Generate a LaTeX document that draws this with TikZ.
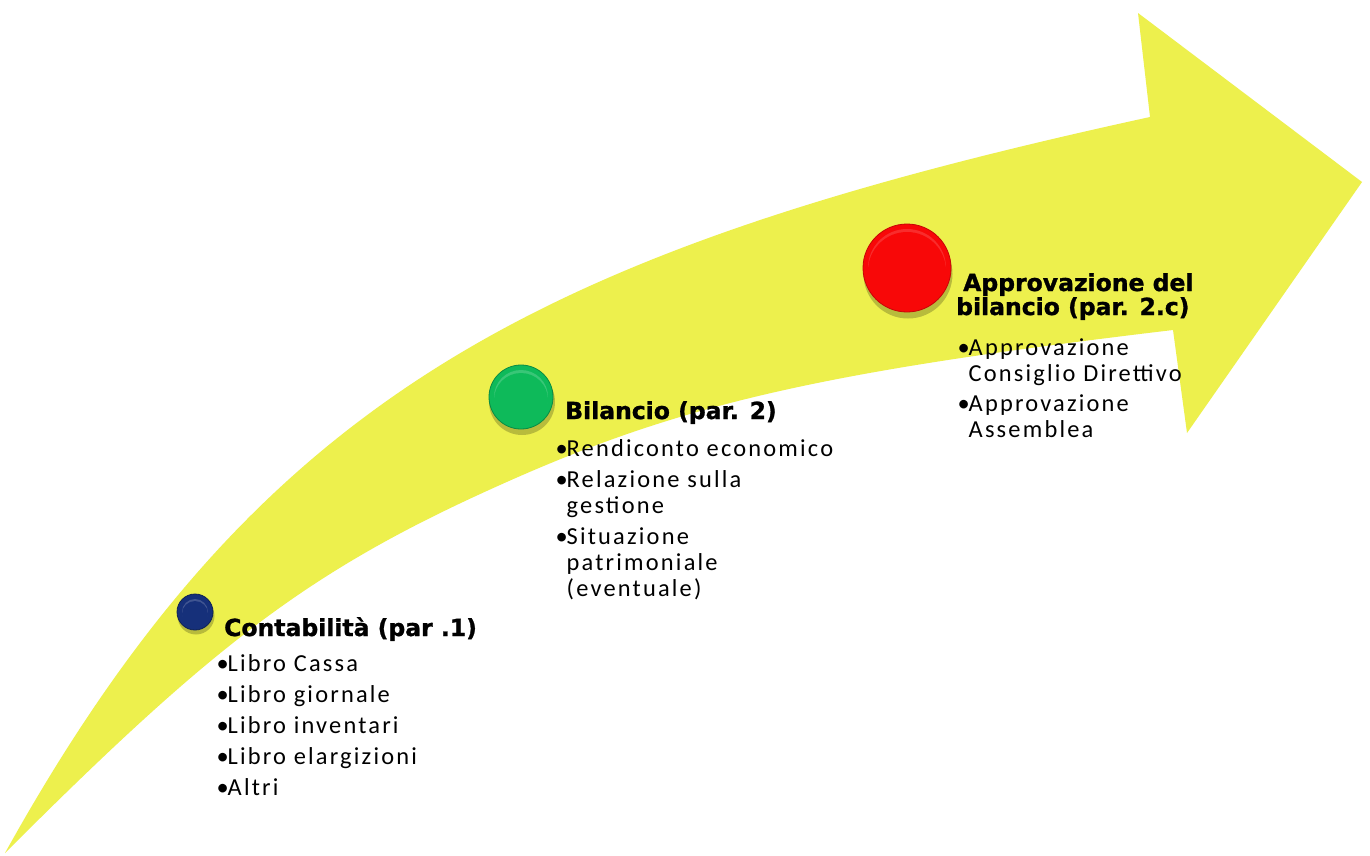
\documentclass[tikz,border=0pt]{standalone}
\usepackage{fontspec}
\newfontfamily\bodyfont[LetterSpace=9]{Carlito}
\newfontfamily\headfont[FakeBold=1.2]{DejaVu Sans Bold}
\definecolor{arrowyellow}{RGB}{237,240,77}
\definecolor{dotblue}{RGB}{22,48,122}
\definecolor{dotgreen}{RGB}{14,186,90}
\definecolor{dotred}{RGB}{248,8,8}
\newcommand\bul{\makebox[11pt][l]{•}}
\newcommand\ind{\hspace*{11pt}}
\begin{document}
\begin{tikzpicture}[x=1pt,y=-1pt,
  head/.style={anchor=base west, inner sep=0pt, font=\headfont\fontsize{23.5}{24}\selectfont},
  item/.style={anchor=base west, inner sep=0pt, font=\bodyfont\fontsize{24.4}{27}\selectfont},
  dotshadow/.style={fill=black, opacity=.22},
]
\useasboundingbox (0,0) rectangle (1370,855);
\fill[white] (0,0) rectangle (1370,855);
% curved arrow
\fill[arrowyellow] (5,853) .. controls (260,394) and (540,250) .. (1150,117)
  -- (1138,13) -- (1362,182) -- (1187,433) -- (1173,330)
  .. controls (820,372) and (680,404) .. (500,485)
  .. controls (310,570) and (215,643) .. (5,853) -- cycle;
% shadows of the dots
\fill[dotshadow] (196,616) circle[radius=18.5pt];
\fill[dotshadow] (522,402) circle[radius=33pt];
\fill[dotshadow] (908,274) circle[radius=44.5pt];
% dots
\node[circle, inner sep=0pt, minimum size=36pt, fill=dotblue, draw=dotblue!70!black, line width=0.8pt] (c1) at (195,612) {};
\node[circle, inner sep=0pt, minimum size=64pt, fill=dotgreen, draw=dotgreen!75!black, line width=0.8pt] (c2) at (521,397) {};
\node[circle, inner sep=0pt, minimum size=88pt, fill=dotred, draw=dotred!80!black, line width=0.8pt] (c3) at (907,268) {};
\fill[white, opacity=.18] (c1.center) circle[radius=13pt];
\fill[dotblue] ([yshift=-2pt]c1.center) circle[radius=13pt];
\fill[white, opacity=.18] (c2.center) circle[radius=27pt];
\fill[dotgreen] ([yshift=-3pt]c2.center) circle[radius=27pt];
\fill[white, opacity=.15] (c3.center) circle[radius=39pt];
\fill[dotred] ([yshift=-3pt]c3.center) circle[radius=39pt];
% texts: Contabilita
\node[head] (t1) at (224,636) {Contabilità (par .1)};
\node[item] (a1) at (216.5,671) {\bul Libro Cassa};
\node[item] (a2) at (216.5,702) {\bul Libro giornale};
\node[item] (a3) at (216.5,733) {\bul Libro inventari};
\node[item] (a4) at (216.5,764) {\bul Libro elargizioni};
\node[item] (a5) at (216.5,795) {\bul Altri};
% Bilancio
\node[head] (t2) at (565,419) {Bilancio (par. 2)};
\node[item] (b1) at (555.5,456) {\bul Rendiconto economico};
\node[item] (b2) at (555.5,487) {\bul Relazione sulla};
\node[item] (b3) at (555.5,513) {\ind gestione};
\node[item] (b4) at (555.5,544) {\bul Situazione};
\node[item] (b5) at (555.5,570) {\ind patrimoniale};
\node[item] (b6) at (555.5,596) {\ind (eventuale)};
% Approvazione
\node[head] (t3) at (963,291) {Approvazione del};
\node[head] (t4) at (956,315) {bilancio (par. 2.c)};
\node[item] (d1) at (957.5,355) {\bul Approvazione};
\node[item] (d2) at (957.5,381) {\ind Consiglio Direttivo};
\node[item] (d3) at (957.5,411) {\bul Approvazione};
\node[item] (d4) at (957.5,437) {\ind Assemblea};
\end{tikzpicture}
\end{document}
